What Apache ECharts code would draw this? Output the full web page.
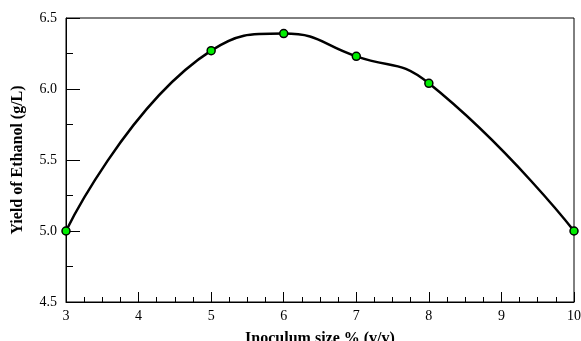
<!DOCTYPE html>
<html><head><meta charset="utf-8">
<script src="https://cdn.jsdelivr.net/npm/echarts@6/dist/echarts.min.js"></script>
<style>html,body{margin:0;padding:0;background:#fff}#c{width:581px;height:341px}</style>
</head><body><div id="c"></div>
<script>
const inoculum = [3, 5, 6, 7, 8, 10];
const ethanolYield = [5.0, 6.27, 6.39, 6.23, 6.04, 5.0];
const xTitle = 'Inoculum size % (v/v)';
const yTitle = 'Yield of Ethanol (g/L)';

const chart = echarts.init(document.getElementById('c'), null, {renderer: 'canvas'});
const serif = '"Liberation Serif","DejaVu Serif",serif';
chart.setOption({
  animation: false,
  backgroundColor: '#fff',
  grid: {left: 66, right: 7, top: 18, bottom: 39, outerBoundsMode: 'none', containLabel: false,
         show: true, borderColor: '#000', borderWidth: 1, backgroundColor: 'transparent'},
  xAxis: {
    type: 'value', min: 3, max: 10, interval: 1,
    name: xTitle, nameLocation: 'middle', nameGap: 29,
    nameTextStyle: {fontFamily: serif, fontWeight: 'bold', fontSize: 16, color: '#000'},
    axisLine: {show: true, lineStyle: {color: '#000', width: 1}},
    axisTick: {show: true, inside: true, length: 10, lineStyle: {color: '#000'}},
    minorTick: {show: true, splitNumber: 4, length: 5, lineStyle: {color: '#000'}},
    axisLabel: {fontFamily: serif, fontSize: 14, color: '#000', margin: 7},
    splitLine: {show: false}
  },
  yAxis: {
    type: 'value', min: 4.5, max: 6.5, interval: 0.5,
    name: yTitle, nameLocation: 'middle', nameGap: 40,
    nameTextStyle: {fontFamily: serif, fontWeight: 'bold', fontSize: 16, color: '#000'},
    axisLine: {show: true, lineStyle: {color: '#000', width: 1}},
    axisTick: {show: true, inside: true, length: 14, lineStyle: {color: '#000'}},
    minorTick: {show: true, splitNumber: 2, length: 7, lineStyle: {color: '#000'}},
    axisLabel: {fontFamily: serif, fontSize: 14, color: '#000', margin: 9, formatter: v => v.toFixed(1)},
    splitLine: {show: false}
  },
  series: [{
    type: 'line',
    data: inoculum.map((x, i) => [x, ethanolYield[i]]),
    smooth: 0.5,
    lineStyle: {color: '#000', width: 2.5},
    symbol: 'circle', symbolSize: 8,
    itemStyle: {color: '#00ee00', borderColor: '#000', borderWidth: 1.5},
    z: 3
  }]
});
</script></body></html>
